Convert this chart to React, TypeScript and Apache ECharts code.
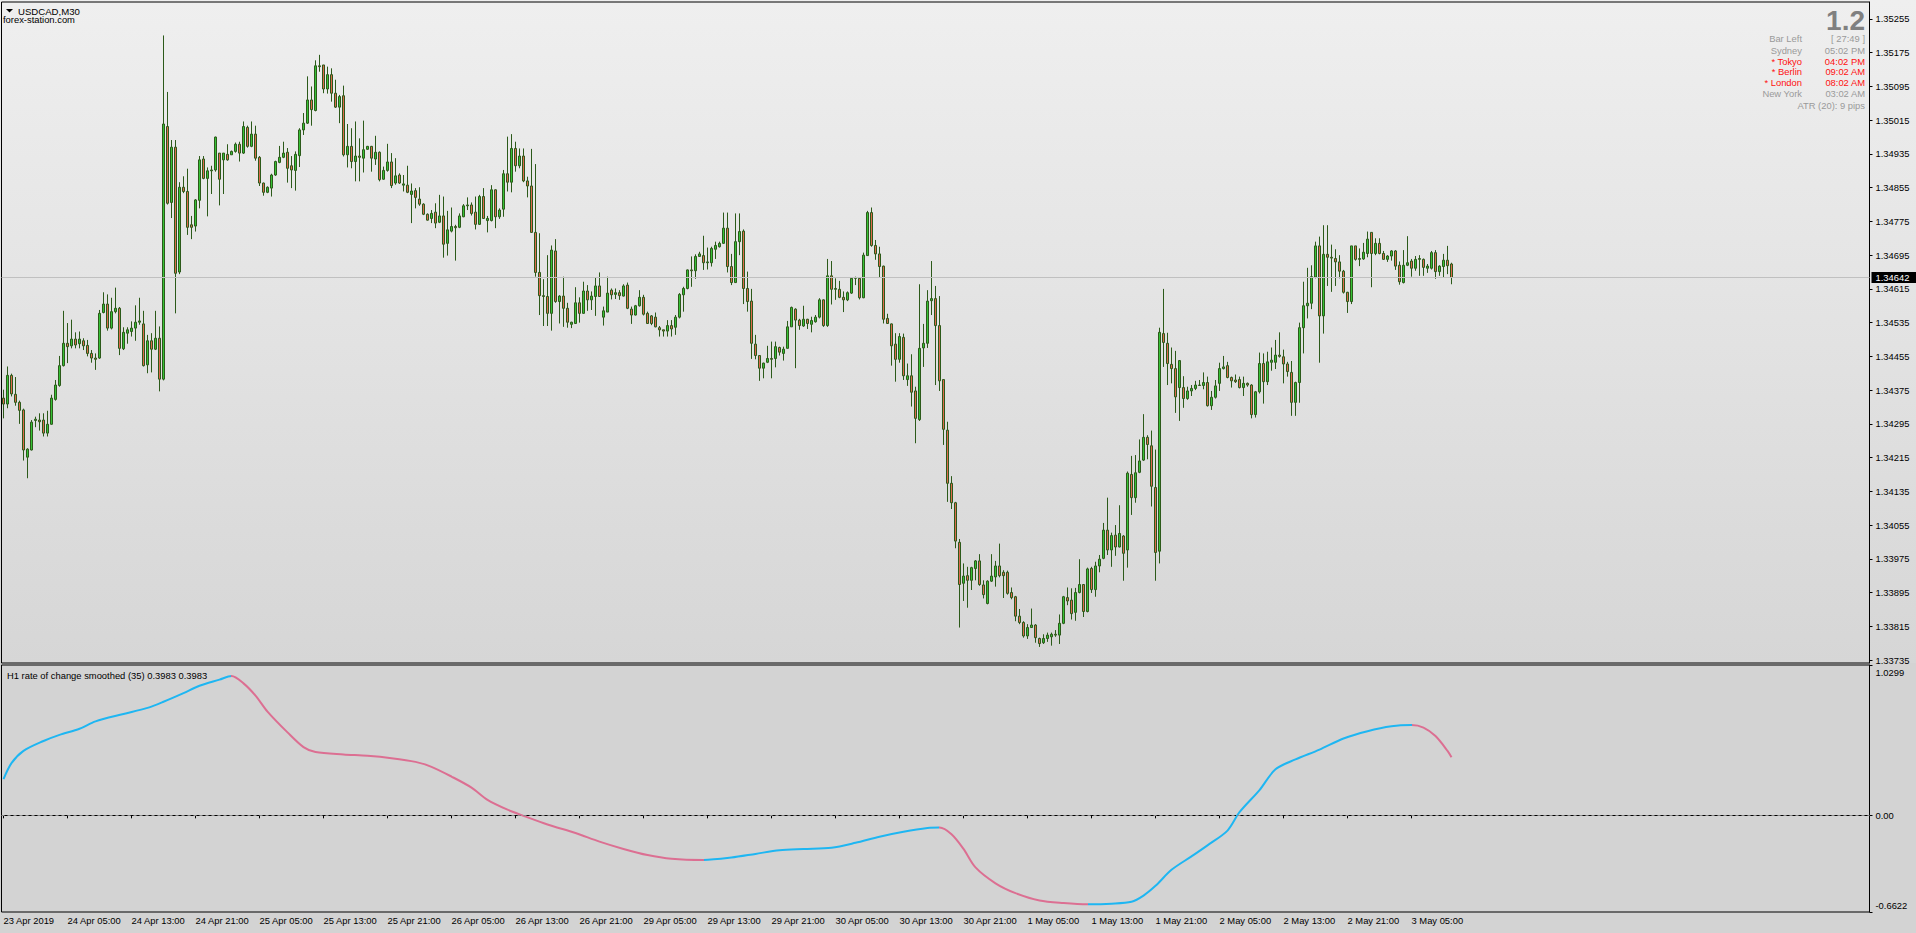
import React, { useEffect, useRef } from "react";
import * as echarts from "echarts";

const FONT = "Liberation Sans, Arial, sans-serif";

const symbolLabel = "USDCAD,M30";
const brokerLabel = "forex-station.com";
const indicatorLabel = "H1 rate of change smoothed (35) 0.3983 0.3983";

// time-axis tick labels, one every 16 bars (8 hours of M30)
const timeTicks = [
  "23 Apr 2019", "24 Apr 05:00", "24 Apr 13:00", "24 Apr 21:00", "25 Apr 05:00", "25 Apr 13:00",
  "25 Apr 21:00", "26 Apr 05:00", "26 Apr 13:00", "26 Apr 21:00", "29 Apr 05:00", "29 Apr 13:00",
  "29 Apr 21:00", "30 Apr 05:00", "30 Apr 13:00", "30 Apr 21:00", "1 May 05:00", "1 May 13:00",
  "1 May 21:00", "2 May 05:00", "2 May 13:00", "2 May 21:00", "3 May 05:00",
];
const barsPerTick = 16;
const totalSlots = 467; // visible bar slots incl. chart shift on the right

// M30 candles: [open, close, low, high]
const bars: number[][] = [
  [1.34356,1.34342,1.34308,1.34376],[1.34342,1.34410,1.34332,1.34431],[1.34410,1.34366,1.34360,1.34414],[1.34365,1.34346,1.34338,1.34406],[1.34346,1.34327,1.34295,1.34350],
  [1.34328,1.34233,1.34208,1.34331],[1.34216,1.34235,1.34166,1.34237],[1.34233,1.34299,1.34232,1.34304],[1.34303,1.34306,1.34287,1.34312],[1.34304,1.34300,1.34279,1.34320],
  [1.34304,1.34273,1.34265,1.34320],[1.34273,1.34294,1.34265,1.34326],[1.34294,1.34356,1.34293,1.34364],[1.34353,1.34387,1.34350,1.34399],[1.34386,1.34433,1.34383,1.34456],
  [1.34433,1.34486,1.34431,1.34563],[1.34486,1.34478,1.34439,1.34534],[1.34480,1.34496,1.34474,1.34542],[1.34496,1.34482,1.34474,1.34512],[1.34485,1.34496,1.34474,1.34514],
  [1.34492,1.34480,1.34470,1.34498],[1.34481,1.34462,1.34455,1.34494],[1.34462,1.34451,1.34440,1.34470],[1.34451,1.34448,1.34423,1.34462],[1.34451,1.34557,1.34449,1.34565],
  [1.34559,1.34579,1.34557,1.34607],[1.34579,1.34522,1.34516,1.34602],[1.34522,1.34561,1.34519,1.34594],[1.34561,1.34569,1.34557,1.34618],[1.34569,1.34474,1.34458,1.34572],
  [1.34473,1.34512,1.34470,1.34524],[1.34510,1.34518,1.34485,1.34524],[1.34514,1.34522,1.34502,1.34538],[1.34522,1.34536,1.34492,1.34576],[1.34536,1.34539,1.34530,1.34594],
  [1.34532,1.34433,1.34431,1.34563],[1.34435,1.34492,1.34415,1.34506],[1.34492,1.34472,1.34417,1.34510],[1.34472,1.34498,1.34470,1.34563],[1.34498,1.34401,1.34372,1.34526],
  [1.34401,1.35006,1.34398,1.35216],[1.35000,1.34818,1.34815,1.35082],[1.34820,1.34951,1.34783,1.34968],[1.34951,1.34652,1.34557,1.34968],[1.34655,1.34856,1.34650,1.34868],
  [1.34856,1.34846,1.34842,1.34882],[1.34846,1.34761,1.34743,1.34900],[1.34767,1.34761,1.34733,1.34788],[1.34764,1.34826,1.34751,1.34828],[1.34825,1.34921,1.34806,1.34930],
  [1.34923,1.34877,1.34875,1.34930],[1.34877,1.34895,1.34787,1.34903],[1.34895,1.34897,1.34840,1.34907],[1.34897,1.34975,1.34893,1.34976],[1.34937,1.34875,1.34813,1.34937],
  [1.34921,1.34937,1.34840,1.34937],[1.34934,1.34921,1.34919,1.34958],[1.34933,1.34941,1.34933,1.34943],[1.34941,1.34958,1.34938,1.34962],[1.34958,1.34937,1.34917,1.34964],
  [1.34937,1.35000,1.34935,1.35012],[1.34998,1.34953,1.34950,1.35002],[1.34953,1.34982,1.34951,1.35012],[1.34982,1.34925,1.34919,1.35002],[1.34927,1.34866,1.34859,1.34930],
  [1.34866,1.34844,1.34836,1.34867],[1.34844,1.34856,1.34842,1.34858],[1.34854,1.34885,1.34834,1.34888],[1.34885,1.34917,1.34883,1.34919],[1.34915,1.34927,1.34913,1.34954],
  [1.34927,1.34937,1.34925,1.34964],[1.34939,1.34901,1.34867,1.34949],[1.34907,1.34897,1.34854,1.34930],[1.34896,1.34934,1.34848,1.34941],[1.34931,1.34992,1.34904,1.34996],
  [1.34992,1.35008,1.34980,1.35032],[1.35008,1.35063,1.35006,1.35119],[1.35063,1.35040,1.35002,1.35095],[1.35038,1.35144,1.35036,1.35157],[1.35144,1.35142,1.35130,1.35170],
  [1.35146,1.35089,1.35079,1.35146],[1.35089,1.35123,1.35078,1.35142],[1.35123,1.35079,1.35059,1.35138],[1.35079,1.35046,1.35044,1.35111],[1.35046,1.35071,1.35008,1.35075],
  [1.35073,1.34933,1.34929,1.35097],[1.34933,1.34953,1.34903,1.35006],[1.34953,1.34917,1.34901,1.34996],[1.34917,1.34930,1.34870,1.35012],[1.34930,1.34927,1.34870,1.34972],
  [1.34925,1.34945,1.34891,1.35014],[1.34946,1.34953,1.34945,1.34954],[1.34953,1.34925,1.34893,1.34954],[1.34923,1.34939,1.34909,1.34978],[1.34939,1.34874,1.34870,1.34941],
  [1.34875,1.34896,1.34874,1.34905],[1.34896,1.34916,1.34893,1.34959],[1.34916,1.34860,1.34854,1.34937],[1.34866,1.34883,1.34862,1.34925],[1.34885,1.34866,1.34864,1.34889],
  [1.34861,1.34864,1.34846,1.34885],[1.34861,1.34844,1.34842,1.34907],[1.34839,1.34847,1.34771,1.34865],[1.34848,1.34832,1.34806,1.34854],[1.34828,1.34816,1.34812,1.34856],
  [1.34816,1.34792,1.34790,1.34818],[1.34792,1.34778,1.34777,1.34794],[1.34782,1.34794,1.34771,1.34802],[1.34797,1.34771,1.34759,1.34818],[1.34773,1.34788,1.34771,1.34838],
  [1.34788,1.34721,1.34689,1.34834],[1.34723,1.34755,1.34694,1.34800],[1.34752,1.34763,1.34749,1.34808],[1.34763,1.34760,1.34682,1.34767],[1.34761,1.34788,1.34759,1.34794],
  [1.34786,1.34812,1.34785,1.34816],[1.34812,1.34814,1.34802,1.34832],[1.34814,1.34794,1.34789,1.34820],[1.34797,1.34768,1.34756,1.34834],[1.34768,1.34834,1.34767,1.34838],
  [1.34834,1.34782,1.34781,1.34854],[1.34777,1.34782,1.34749,1.34788],[1.34777,1.34850,1.34775,1.34861],[1.34850,1.34786,1.34759,1.34851],[1.34786,1.34802,1.34781,1.34806],
  [1.34804,1.34888,1.34786,1.34897],[1.34888,1.34868,1.34846,1.34976],[1.34868,1.34948,1.34844,1.34982],[1.34948,1.34907,1.34893,1.34964],[1.34907,1.34930,1.34901,1.34948],
  [1.34930,1.34871,1.34868,1.34948],[1.34871,1.34859,1.34832,1.34881],[1.34859,1.34749,1.34748,1.34947],[1.34749,1.34654,1.34644,1.34911],[1.34654,1.34599,1.34553,1.34747],
  [1.34599,1.34597,1.34527,1.34638],[1.34597,1.34557,1.34527,1.34695],[1.34557,1.34707,1.34516,1.34718],[1.34705,1.34585,1.34582,1.34733],[1.34585,1.34598,1.34533,1.34600],
  [1.34598,1.34569,1.34525,1.34644],[1.34569,1.34536,1.34523,1.34582],[1.34531,1.34536,1.34522,1.34537],[1.34533,1.34582,1.34532,1.34619],[1.34582,1.34557,1.34535,1.34595],
  [1.34557,1.34610,1.34556,1.34632],[1.34610,1.34589,1.34563,1.34624],[1.34589,1.34598,1.34565,1.34609],[1.34597,1.34622,1.34551,1.34643],[1.34622,1.34597,1.34597,1.34654],
  [1.34548,1.34563,1.34528,1.34573],[1.34560,1.34605,1.34560,1.34644],[1.34612,1.34601,1.34590,1.34616],[1.34602,1.34606,1.34591,1.34616],[1.34606,1.34599,1.34589,1.34612],
  [1.34598,1.34622,1.34597,1.34626],[1.34624,1.34569,1.34567,1.34630],[1.34567,1.34553,1.34532,1.34573],[1.34553,1.34575,1.34552,1.34577],[1.34575,1.34595,1.34573,1.34612],
  [1.34595,1.34555,1.34552,1.34601],[1.34557,1.34533,1.34532,1.34561],[1.34551,1.34533,1.34529,1.34553],[1.34548,1.34525,1.34524,1.34559],[1.34523,1.34518,1.34502,1.34527],
  [1.34518,1.34515,1.34502,1.34518],[1.34515,1.34528,1.34502,1.34541],[1.34528,1.34520,1.34502,1.34541],[1.34524,1.34548,1.34506,1.34553],[1.34548,1.34602,1.34545,1.34605],
  [1.34601,1.34616,1.34561,1.34620],[1.34616,1.34660,1.34614,1.34661],[1.34660,1.34658,1.34620,1.34692],[1.34658,1.34692,1.34639,1.34697],[1.34692,1.34698,1.34691,1.34703],
  [1.34694,1.34677,1.34660,1.34741],[1.34677,1.34679,1.34661,1.34713],[1.34677,1.34711,1.34668,1.34715],[1.34709,1.34718,1.34686,1.34727],[1.34715,1.34723,1.34713,1.34727],
  [1.34723,1.34759,1.34722,1.34796],[1.34759,1.34668,1.34654,1.34796],[1.34668,1.34630,1.34624,1.34698],[1.34630,1.34727,1.34630,1.34794],[1.34727,1.34751,1.34695,1.34794],
  [1.34752,1.34616,1.34579,1.34756],[1.34616,1.34585,1.34561,1.34656],[1.34586,1.34486,1.34449,1.34615],[1.34484,1.34457,1.34448,1.34506],[1.34457,1.34427,1.34397,1.34458],
  [1.34427,1.34439,1.34403,1.34440],[1.34441,1.34450,1.34439,1.34480],[1.34450,1.34448,1.34403,1.34490],[1.34450,1.34478,1.34429,1.34490],[1.34476,1.34465,1.34457,1.34478],
  [1.34462,1.34472,1.34445,1.34478],[1.34474,1.34525,1.34474,1.34539],[1.34525,1.34571,1.34525,1.34573],[1.34567,1.34541,1.34427,1.34569],[1.34541,1.34528,1.34518,1.34544],
  [1.34527,1.34543,1.34525,1.34575],[1.34543,1.34533,1.34520,1.34544],[1.34531,1.34540,1.34512,1.34549],[1.34537,1.34548,1.34535,1.34553],[1.34548,1.34589,1.34545,1.34593],
  [1.34589,1.34528,1.34525,1.34590],[1.34528,1.34646,1.34525,1.34686],[1.34646,1.34614,1.34578,1.34681],[1.34614,1.34616,1.34589,1.34640],[1.34614,1.34595,1.34593,1.34634],
  [1.34595,1.34589,1.34560,1.34609],[1.34589,1.34606,1.34586,1.34609],[1.34605,1.34640,1.34603,1.34643],[1.34640,1.34642,1.34624,1.34644],[1.34640,1.34594,1.34590,1.34642],
  [1.34594,1.34695,1.34593,1.34701],[1.34694,1.34796,1.34693,1.34800],[1.34796,1.34718,1.34715,1.34808],[1.34718,1.34698,1.34684,1.34731],[1.34698,1.34668,1.34642,1.34715],
  [1.34669,1.34543,1.34533,1.34670],[1.34545,1.34533,1.34532,1.34556],[1.34532,1.34480,1.34433,1.34533],[1.34484,1.34448,1.34395,1.34510],[1.34448,1.34502,1.34440,1.34510],
  [1.34500,1.34409,1.34399,1.34509],[1.34400,1.34409,1.34385,1.34438],[1.34409,1.34370,1.34336,1.34460],[1.34373,1.34308,1.34249,1.34383],[1.34305,1.34474,1.34302,1.34626],
  [1.34475,1.34486,1.34430,1.34532],[1.34486,1.34586,1.34475,1.34612],[1.34587,1.34592,1.34553,1.34681],[1.34592,1.34528,1.34387,1.34622],[1.34528,1.34397,1.34373,1.34598],
  [1.34400,1.34282,1.34245,1.34400],[1.34280,1.34154,1.34110,1.34300],[1.34154,1.34108,1.34093,1.34171],[1.34108,1.34017,1.34000,1.34110],[1.34014,1.33914,1.33812,1.34022],
  [1.33917,1.33934,1.33875,1.33964],[1.33935,1.33924,1.33859,1.33956],[1.33924,1.33954,1.33901,1.33956],[1.33952,1.33970,1.33924,1.33972],[1.33970,1.33914,1.33911,1.33986],
  [1.33913,1.33890,1.33881,1.33924],[1.33869,1.33922,1.33867,1.33924],[1.33922,1.33934,1.33920,1.33986],[1.33932,1.33958,1.33909,1.33970],[1.33958,1.33935,1.33931,1.34011],
  [1.33943,1.33935,1.33882,1.33948],[1.33943,1.33893,1.33890,1.33947],[1.33895,1.33883,1.33879,1.33907],[1.33885,1.33839,1.33827,1.33887],[1.33839,1.33824,1.33820,1.33856],
  [1.33824,1.33792,1.33788,1.33827],[1.33792,1.33812,1.33785,1.33820],[1.33812,1.33818,1.33811,1.33857],[1.33818,1.33788,1.33776,1.33820],[1.33786,1.33774,1.33766,1.33788],
  [1.33776,1.33786,1.33773,1.33796],[1.33786,1.33794,1.33778,1.33800],[1.33790,1.33796,1.33769,1.33800],[1.33796,1.33794,1.33790,1.33806],[1.33794,1.33822,1.33773,1.33843],
  [1.33822,1.33885,1.33820,1.33887],[1.33883,1.33875,1.33865,1.33907],[1.33877,1.33845,1.33831,1.33905],[1.33848,1.33895,1.33828,1.33906],[1.33895,1.33914,1.33893,1.33974],
  [1.33914,1.33850,1.33837,1.33914],[1.33850,1.33951,1.33848,1.33954],[1.33952,1.33902,1.33894,1.33956],[1.33902,1.33958,1.33885,1.33968],[1.33958,1.33974,1.33943,1.33984],
  [1.33976,1.34043,1.33974,1.34060],[1.34043,1.33996,1.33984,1.34120],[1.33996,1.34030,1.33956,1.34037],[1.34031,1.34003,1.33982,1.34055],[1.34003,1.34035,1.34002,1.34102],
  [1.34029,1.33988,1.33923,1.34031],[1.33996,1.34178,1.33954,1.34182],[1.34175,1.34120,1.34079,1.34219],[1.34120,1.34179,1.34108,1.34221],[1.34180,1.34207,1.34178,1.34258],
  [1.34209,1.34263,1.34207,1.34318],[1.34263,1.34246,1.34211,1.34268],[1.34243,1.34147,1.34099,1.34279],[1.34144,1.33990,1.33923,1.34234],[1.33993,1.34512,1.33964,1.34523],
  [1.34509,1.34488,1.34430,1.34615],[1.34486,1.34438,1.34387,1.34511],[1.34436,1.34426,1.34391,1.34476],[1.34426,1.34359,1.34321,1.34468],[1.34381,1.34445,1.34302,1.34446],
  [1.34381,1.34355,1.34333,1.34408],[1.34355,1.34373,1.34352,1.34383],[1.34373,1.34379,1.34361,1.34387],[1.34379,1.34387,1.34375,1.34397],[1.34387,1.34386,1.34385,1.34399],
  [1.34386,1.34393,1.34377,1.34417],[1.34393,1.34338,1.34336,1.34407],[1.34338,1.34358,1.34328,1.34373],[1.34358,1.34385,1.34355,1.34399],[1.34391,1.34426,1.34373,1.34440],
  [1.34426,1.34430,1.34424,1.34456],[1.34433,1.34405,1.34403,1.34442],[1.34405,1.34397,1.34381,1.34407],[1.34399,1.34395,1.34392,1.34412],[1.34400,1.34381,1.34379,1.34407],
  [1.34381,1.34391,1.34361,1.34407],[1.34391,1.34387,1.34383,1.34393],[1.34387,1.34317,1.34308,1.34389],[1.34317,1.34371,1.34310,1.34373],[1.34371,1.34438,1.34367,1.34464],
  [1.34438,1.34395,1.34343,1.34462],[1.34395,1.34442,1.34387,1.34466],[1.34441,1.34446,1.34421,1.34476],[1.34441,1.34458,1.34425,1.34494],[1.34458,1.34455,1.34452,1.34512],
  [1.34454,1.34437,1.34391,1.34471],[1.34437,1.34419,1.34407,1.34442],[1.34417,1.34346,1.34314,1.34444],[1.34346,1.34393,1.34314,1.34395],[1.34393,1.34523,1.34345,1.34535],
  [1.34523,1.34575,1.34462,1.34632],[1.34575,1.34581,1.34545,1.34665],[1.34581,1.34644,1.34567,1.34671],[1.34643,1.34717,1.34640,1.34727],[1.34717,1.34551,1.34440,1.34739],
  [1.34551,1.34697,1.34509,1.34766],[1.34697,1.34690,1.34622,1.34766],[1.34690,1.34688,1.34608,1.34720],[1.34687,1.34679,1.34622,1.34709],[1.34679,1.34657,1.34640,1.34695],
  [1.34657,1.34607,1.34604,1.34660],[1.34607,1.34585,1.34558,1.34608],[1.34585,1.34717,1.34579,1.34717],[1.34717,1.34685,1.34682,1.34717],[1.34685,1.34687,1.34669,1.34711],
  [1.34686,1.34702,1.34684,1.34724],[1.34699,1.34733,1.34690,1.34751],[1.34749,1.34699,1.34619,1.34749],[1.34699,1.34723,1.34695,1.34735],[1.34723,1.34699,1.34697,1.34735],
  [1.34699,1.34685,1.34684,1.34705],[1.34685,1.34693,1.34679,1.34695],[1.34693,1.34705,1.34682,1.34707],[1.34705,1.34669,1.34660,1.34707],[1.34671,1.34632,1.34625,1.34680],
  [1.34630,1.34671,1.34628,1.34707],[1.34671,1.34677,1.34669,1.34740],[1.34681,1.34664,1.34644,1.34686],[1.34664,1.34685,1.34658,1.34693],[1.34685,1.34687,1.34646,1.34695],
  [1.34685,1.34666,1.34646,1.34687],[1.34664,1.34669,1.34653,1.34674],[1.34664,1.34701,1.34661,1.34705],[1.34701,1.34656,1.34639,1.34707],[1.34656,1.34669,1.34646,1.34671],
  [1.34668,1.34683,1.34642,1.34698],[1.34683,1.34670,1.34650,1.34717],[1.34674,1.34642,1.34626,1.34677],
];

const lastPrice = 1.34642;
const priceTicks = [
  1.35255, 1.35175, 1.35095, 1.35015, 1.34935, 1.34855, 1.34775, 1.34695, 1.34615, 1.34535,
  1.34455, 1.34375, 1.34295, 1.34215, 1.34135, 1.34055, 1.33975, 1.33895, 1.33815, 1.33735,
];
const priceMin = 1.337279;
const priceMax = 1.352953;

// H1 rate of change smoothed (35): [bar index, value]
const rocPoints: number[][] = [
  [0,0.2485],[2,0.3578],[5,0.4417],[10,0.5092],[14,0.5511],[19,0.5931],[23,0.6440],[30,0.6942],
  [36,0.7362],[40,0.7781],[45,0.8373],[49,0.8875],[54,0.9295],[57,0.9549],[60,0.9040],[63,0.8201],
  [66,0.7107],[71,0.5683],[75,0.4672],[78,0.4335],[85,0.4170],[91,0.4080],[97,0.3915],[103,0.3661],
  [107,0.3324],[112,0.2656],[117,0.1900],[121,0.1060],[126,0.0386],[130,-0.0033],[136,-0.0625],
  [143,-0.1210],[149,-0.1801],[155,-0.2303],[161,-0.2723],[167,-0.2978],[175,-0.3060],[182,-0.2895],
  [188,-0.2641],[194,-0.2386],[200,-0.2303],[207,-0.2221],[213,-0.1884],[219,-0.1464],[225,-0.1127],
  [231,-0.0873],[234,-0.0840],[237,-0.1299],[240,-0.2303],[243,-0.3569],[248,-0.4656],[253,-0.5330],
  [259,-0.5832],[265,-0.6004],[271,-0.6087],[277,-0.6050],[282,-0.5922],[285,-0.5495],[288,-0.4828],
  [292,-0.3734],[297,-0.2812],[301,-0.2056],[306,-0.1045],[309,0.0214],[314,0.1728],[318,0.3159],
  [323,0.3833],[329,0.4500],[335,0.5263],[341,0.5766],[347,0.6103],[352,0.6185],[355,0.6013],
  [358,0.5429],[361,0.4417],[362,0.3983],
];
const rocTurns = [57, 175, 234, 271, 352]; // bars where the slope changes sign
const rocMax = 1.0299;
const rocMin = -0.6622;
const rocTicks = [1.0299, 0, -0.6622];

const infoLabels = ["Bar Left", "Sydney", "* Tokyo", "* Berlin", "* London", "New York"];
const infoValues = ["[ 27:49 ]", "05:02 PM", "04:02 PM", "09:02 AM", "08:02 AM", "03:02 AM"];
const infoOpen = [false, false, true, true, true, false];
const spreadLabel = "1.2";
const atrLabel = "ATR (20): 9 pips";

const UP_COLOR = "#1eb6f2";
const DOWN_COLOR = "#dc6f92";
const OUTLINE = "#2c5a1a";
const BULL = "#36c236";
const BEAR = "#dd6a4c";
const INFO_GRAY = "#9a9a9a";

function buildOption() {
  const cats = Array.from({ length: totalSlots }, (_, i) => String(i));
  const tickShown = (index: number) => index % barsPerTick === 0 && index / barsPerTick < timeTicks.length;

  const pieces: any[] = [];
  let prev = -Infinity;
  rocTurns.forEach((t, k) => {
    pieces.push({ gt: prev, lte: t, color: k % 2 === 0 ? UP_COLOR : DOWN_COLOR });
    prev = t;
  });
  pieces.push({ gt: prev, lte: Infinity, color: rocTurns.length % 2 === 0 ? UP_COLOR : DOWN_COLOR });

  const small = 9.4;
  const graphic: any[] = [
    {
      type: "rect", z: -1, silent: true,
      shape: { x: 0, y: 0, width: 1916, height: 663 },
      style: {
        fill: new echarts.graphic.LinearGradient(0, 0, 0, 1, [
          { offset: 0, color: "#efefef" },
          { offset: 1, color: "#d6d6d6" },
        ]),
      },
    },
    { type: "polygon", z: 100, shape: { points: [[6, 9], [13, 9], [9.5, 12.5]] }, style: { fill: "#000" } },
    { type: "text", z: 100, x: 18, y: 11, style: { text: symbolLabel, fill: "#000", fontSize: 9.6, fontFamily: FONT, verticalAlign: "middle" } },
    { type: "text", z: 100, x: 3, y: 19, style: { text: brokerLabel, fill: "#000", fontSize: small, fontFamily: FONT, verticalAlign: "middle" } },
    { type: "text", z: 100, x: 7, y: 675, style: { text: indicatorLabel, fill: "#000", fontSize: small, fontFamily: FONT, verticalAlign: "middle" } },
    { type: "text", z: 100, x: 1865, y: 20, style: { text: spreadLabel, fill: "#808080", fontSize: 28, fontWeight: "bold", fontFamily: FONT, align: "right", verticalAlign: "middle" } },
    { type: "text", z: 100, x: 1865, y: 105.3, style: { text: atrLabel, fill: INFO_GRAY, fontSize: small, fontFamily: FONT, align: "right", verticalAlign: "middle" } },
  ];
  const rowY = [38.3, 50, 61, 71.7, 82.7, 93.3];
  infoLabels.forEach((lab, k) => {
    const fill = infoOpen[k] ? "#ff1010" : INFO_GRAY;
    graphic.push({ type: "text", z: 100, x: 1802, y: rowY[k], style: { text: lab, fill, fontSize: small, fontFamily: FONT, align: "right", verticalAlign: "middle" } });
    graphic.push({ type: "text", z: 100, x: 1865, y: rowY[k], style: { text: infoValues[k], fill, fontSize: small, fontFamily: FONT, align: "right", verticalAlign: "middle" } });
  });

  return {
    animation: false,
    textStyle: { fontFamily: FONT },
    graphic,
    grid: [
      { left: 1.5, width: 1868, top: 2, height: 661, show: true, backgroundColor: "transparent", borderColor: "#000", borderWidth: 1 },
      { left: 1.5, width: 1868, top: 665, height: 247, show: true, backgroundColor: "transparent", borderColor: "#000", borderWidth: 1 },
    ],
    visualMap: [
      { show: false, type: "piecewise", seriesIndex: 1, dimension: 0, pieces },
    ],
    xAxis: [
      { type: "category", gridIndex: 0, data: cats, show: false },
      {
        type: "category", gridIndex: 1, data: cats, position: "bottom",
        axisLine: { show: true, lineStyle: { color: "#000", width: 1 } },
        axisTick: { show: true, interval: tickShown, alignWithLabel: true, length: 3, lineStyle: { color: "#000" } },
        axisLabel: {
          show: true, interval: tickShown, align: "left", margin: 4, color: "#000", fontSize: small, fontFamily: FONT,
          formatter: (_v: string, index: number) => timeTicks[Math.round(index / barsPerTick)] ?? "",
        },
        splitLine: { show: false },
      },
    ],
    yAxis: [
      {
        type: "value", gridIndex: 0, position: "right", min: priceMin, max: priceMax, scale: true,
        axisLine: { show: true, lineStyle: { color: "#000" } },
        axisTick: { show: true, length: 3, customValues: priceTicks, lineStyle: { color: "#000" } },
        axisLabel: { show: true, customValues: priceTicks, margin: 6, color: "#000", fontSize: small, fontFamily: FONT, formatter: (v: number) => v.toFixed(5) },
        splitLine: { show: false },
      },
      {
        type: "value", gridIndex: 1, position: "right", min: rocMin, max: rocMax,
        axisLine: { show: true, lineStyle: { color: "#000" } },
        axisTick: { show: true, length: 3, customValues: rocTicks, lineStyle: { color: "#000" } },
        axisLabel: {
          show: true, customValues: rocTicks, margin: 6, color: "#000", fontSize: small, fontFamily: FONT,
          showMinLabel: true, showMaxLabel: true,
          formatter: (v: number) => (v > 0.5 ? `{t|${v.toFixed(4)}}` : v < -0.3 ? `{b|${v.toFixed(4)}}` : v.toFixed(2)),
          rich: {
            t: { padding: [14, 0, 0, 0], fontSize: small, fontFamily: FONT, color: "#000" },
            b: { padding: [0, 0, 14, 0], fontSize: small, fontFamily: FONT, color: "#000" },
          },
        },
        splitLine: { show: false },
      },
    ],
    series: [
      {
        type: "candlestick", xAxisIndex: 0, yAxisIndex: 0, data: bars, barWidth: 2, z: 3,
        itemStyle: { color: BULL, color0: BEAR, borderColor: OUTLINE, borderColor0: OUTLINE, borderColorDoji: OUTLINE, borderWidth: 1 },
      },
      {
        type: "line", xAxisIndex: 1, yAxisIndex: 1, data: rocPoints, showSymbol: false, smooth: 0.3,
        lineStyle: { width: 2 },
        markLine: {
          silent: true, symbol: ["none", "none"], animation: false, precision: 4,
          data: [{ yAxis: 0 }],
          lineStyle: { color: "#8a8a8a", width: 1, type: [3, 3] },
          label: { show: false },
        },
      },
      {
        // carrier of the current-price (bid) line on the price panel
        type: "line", xAxisIndex: 0, yAxisIndex: 0, data: [[bars.length - 1, lastPrice]], showSymbol: false, z: 2,
        lineStyle: { width: 0, opacity: 0 },
        markLine: {
          silent: true, symbol: ["none", "none"], animation: false, precision: 5,
          data: [{ yAxis: lastPrice }],
          lineStyle: { color: "#c0c0c0", width: 1, type: "solid" },
          label: {
            show: true, position: "end", distance: 2, formatter: lastPrice.toFixed(5), color: "#fff", backgroundColor: "#000",
            padding: [1, 8, 1, 4], fontSize: small, fontFamily: FONT,
          },
        },
      },
    ],
  };
}

export default function App() {
  const ref = useRef<HTMLDivElement>(null);
  useEffect(() => {
    if (!ref.current) return;
    const chart = echarts.init(ref.current, null, { renderer: "svg" });
    chart.setOption(buildOption() as any);
    return () => chart.dispose();
  }, []);
  return (
    <div
      ref={ref}
      style={{ position: "fixed", left: 0, top: 0, width: 1916, height: 933, background: "#d3d3d3" }}
    />
  );
}
